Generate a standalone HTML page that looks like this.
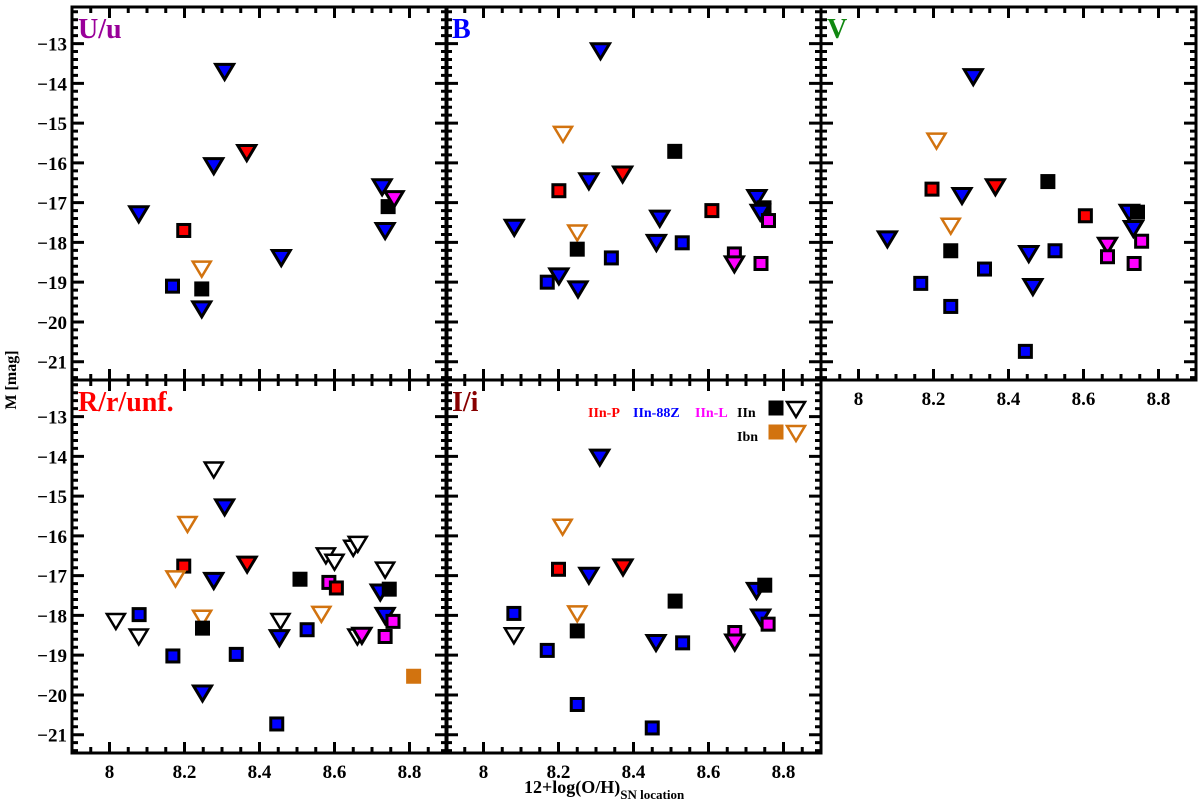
<!DOCTYPE html>
<html><head><meta charset="utf-8"><style>
html,body{margin:0;padding:0;background:#fff;}
svg{display:block;font-family:"Liberation Serif",serif;font-weight:bold;}
</style></head><body>
<svg id="chart" width="1200" height="807" viewBox="0 0 1200 807" xmlns="http://www.w3.org/2000/svg">
<text transform="translate(16,380) rotate(-90)" text-anchor="middle" font-size="16">M [mag]</text>
<text x="524" y="793" font-size="18">12+log(O/H)<tspan font-size="13" dy="6">SN location</tspan></text>
</svg>
<script>
// ---- data (panel U/u) ----
const uX=[8.078,8.198,8.168,8.246,8.246,8.246,8.278,8.307,8.366,8.458,8.727,8.743,8.759,8.735];
const uY=[-17.28,-17.7,-19.1,-18.66,-19.17,-19.67,-16.07,-13.7,-15.74,-18.38,-16.6,-17.1,-16.9,-17.7];
const uT=['tb','sr','sb','oo','sk','tb','tb','tb','tr','tb','tb','sk','tm','tb'];
// ---- data (panel B) ----
const bX=[8.312,8.212,8.51,8.281,8.371,8.201,8.729,8.748,8.738,8.76,8.609,8.082,8.25,8.47,8.461,8.53,8.25,8.341,8.669,8.669,8.74,8.201,8.17,8.252];
const bY=[-13.18,-15.27,-15.71,-16.45,-16.28,-16.7,-16.87,-17.13,-17.24,-17.45,-17.2,-17.62,-17.75,-17.39,-18.0,-18.01,-18.17,-18.39,-18.29,-18.54,-18.53,-18.84,-19.0,-19.17];
const bT=['tb','oo','sk','tb','tr','sr','tb','sk','tb','sm','sr','tb','oo','tb','tb','sb','sk','sb','sm','tm','sm','tb','sb','tb'];
// ---- data (panel V) ----
const vX=[8.306,8.208,8.196,8.276,8.365,8.505,8.605,8.722,8.744,8.733,8.246,8.077,8.246,8.454,8.524,8.664,8.664,8.755,8.735,8.336,8.166,8.465,8.246,8.445];
const vY=[-13.83,-15.44,-16.66,-16.82,-16.6,-16.47,-17.33,-17.24,-17.24,-17.65,-17.58,-17.91,-18.21,-18.28,-18.21,-18.07,-18.36,-17.97,-18.53,-18.67,-19.03,-19.11,-19.61,-20.74];
const vT=['tb','oo','sr','tb','tr','sk','sr','tb','sk','tb','oo','tb','sk','tb','sb','tm','sm','sm','sm','sb','sb','tb','sb','sb'];
// ---- data (panel R/r/unf.) ----
const rX=[8.278,8.307,8.208,8.198,8.367,8.176,8.278,8.508,8.577,8.6,8.65,8.662,8.735,8.585,8.605,8.722,8.746,8.247,8.248,8.079,8.017,8.078,8.565,8.456,8.453,8.527,8.735,8.756,8.661,8.673,8.735,8.169,8.338,8.248,8.811,8.446];
const rY=[-14.33,-15.27,-15.7,-16.76,-16.71,-17.07,-17.12,-17.09,-16.49,-16.65,-16.3,-16.2,-16.85,-17.17,-17.31,-17.41,-17.34,-18.06,-18.32,-17.98,-18.14,-18.53,-17.96,-18.14,-18.56,-18.36,-18.0,-18.15,-18.53,-18.5,-18.53,-19.02,-18.98,-19.95,-19.53,-20.73];
const rT=['ok','tb','oo','sr','tr','oo','tb','sk','ok','ok','ok','ok','ok','sm','sr','tb','sk','oo','sk','sb','ok','ok','oo','ok','tb','sb','tb','sm','ok','tm','sm','sb','sb','tb','so','sb'];
// ---- data (panel I/i) ----
const iX=[8.31,8.211,8.2,8.281,8.372,8.511,8.728,8.75,8.081,8.25,8.739,8.759,8.081,8.25,8.17,8.46,8.531,8.67,8.67,8.25,8.45];
const iY=[-14.02,-15.77,-16.84,-16.99,-16.78,-17.64,-17.37,-17.24,-17.95,-17.95,-18.04,-18.22,-18.5,-18.39,-18.88,-18.68,-18.69,-18.43,-18.67,-20.24,-20.83];
const iT=['tb','oo','sr','tb','tr','sk','tb','sk','sb','oo','tb','sm','ok','sk','sb','tb','sb','sm','tm','sb','sb'];
const xTicks=[8,8.2,8.4,8.6,8.8];
const yTicks=[-13,-14,-15,-16,-17,-18,-19,-20,-21];

const NS='http://www.w3.org/2000/svg';
const svg=document.getElementById('chart');
const XMIN=7.9,XMAX=8.9,YTOP=-12.08,YBOT=-21.46,W=375,H=373;
const COL={b:'#0000ff',r:'#ff0000',m:'#ff00ff',k:'#000000',o:'#d2730f'};
function mk(tag,attrs,parent){const e=document.createElementNS(NS,tag);for(const k in attrs)e.setAttribute(k,attrs[k]);(parent||svg).appendChild(e);return e;}

function panel(name,label,color,px,py,xs,ys,ts,showY,showX){
  const g=mk('g',{});
  
  
  const sx=v=>px+(v-XMIN)/(XMAX-XMIN)*W;
  const sy=v=>py+(YTOP-v)/(YTOP-YBOT)*H;
  let d='';
  for(let k=0;k<=20;k++){const v=XMIN+k*0.05;const x=sx(v);const L=(k%4==2)?11:6;d+=`M${x},${py+H}v${-L}M${x},${py}v${L}`;}
  for(let k=0;k<=47;k++){const v=-12.2-k*0.2;if(v<YBOT)break;const y=sy(v);const L=(Math.abs(v-Math.round(v))<0.01)?12:6;d+=`M${px},${y}h${L}M${px+W},${y}h${-L}`;}
  const t=mk('path',{d:d,stroke:'#000','stroke-width':3,fill:'none'},g);
  
  
  const fr=mk('rect',{x:px,y:py,width:W,height:H,fill:'none',stroke:'#000','stroke-width':3},g);
  
  
  const lb=mk('text',{x:px+6,y:py+31,fill:color,'font-size':28},g);
  lb.textContent=label;
  
  
  if(showY){yTicks.forEach(v=>{const tt=mk('text',{x:px-5,y:sy(v)+7,'text-anchor':'end','font-size':19},g);tt.textContent='\u2212'+Math.abs(v);
    
    });}
  if(showX){xTicks.forEach(v=>{const tt=mk('text',{x:sx(v),y:py+H+25,'text-anchor':'middle','font-size':19},g);tt.textContent=String(v);
    
    });}
  xs.forEach((xv,i)=>{marker(g,sx(xv),sy(ys[i]),ts[i]);});
}
function marker(g,x,y,t){
  let e;
  if(t[0]=='s'){
    if(t=='sk'||t=='so'){e=mk('rect',{x:x-7.5,y:y-7.5,width:15,height:15,fill:COL[t[1]]},g);}
    else e=mk('rect',{x:x-6,y:y-6,width:12,height:12,fill:COL[t[1]],stroke:'#000','stroke-width':3},g);
    
  } else if(t[0]=='t'){
    e=mk('polygon',{points:`${x-9},${y-7} ${x+9},${y-7} ${x},${y+8}`,fill:COL[t[1]],stroke:'#000','stroke-width':3},g);
    
  } else {
    e=mk('polygon',{points:`${x-9},${y-7} ${x+9},${y-7} ${x},${y+8}`,fill:'#fff',stroke:COL[t[1]],'stroke-width':2.5},g);
    
  }
  
}
panel('u','U/u','#990099',72,7,uX,uY,uT,true,false);
panel('b','B','#0000ff',446,7,bX,bY,bT,false,false);
panel('v','V','#118811',821,7,vX,vY,vT,false,true);
panel('r','R/r/unf.','#ff0000',72,380,rX,rY,rT,true,true);
panel('i','I/i','#880000',446,380,iX,iY,iT,false,true);
const lg=mk('g',{'font-size':14});


[['IIn-P','#ff0000',588],['IIn-88Z','#0000ff',633],['IIn-L','#ff00ff',695],['IIn','#000',737]].forEach(a=>{
  const tx=mk('text',{x:a[2],y:417,fill:a[1]},lg);tx.textContent=a[0];
  
  
});
const t2=mk('text',{x:737,y:441,fill:'#000'},lg);t2.textContent='Ibn';


marker(lg,776,408,'sk');marker(lg,796,409,'ok');
marker(lg,776,432,'so');marker(lg,796,433,'oo');
</script>
</body></html>
